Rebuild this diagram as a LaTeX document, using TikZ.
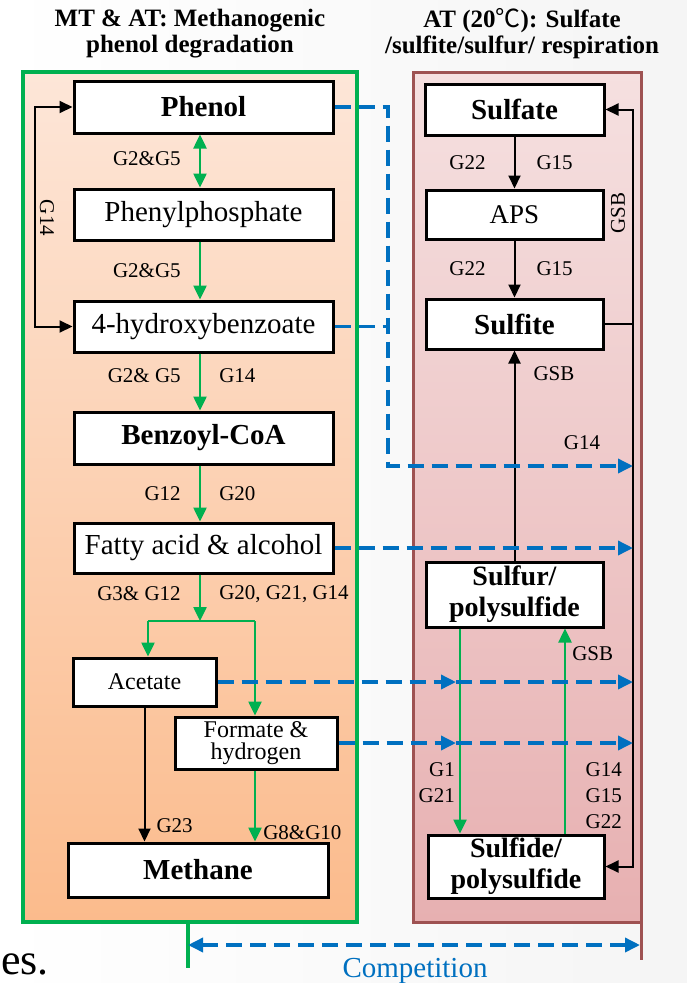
\documentclass[tikz,border=0pt]{standalone}
\usepackage{fontspec}
\setmainfont{Liberation Serif}
\newfontfamily\cjk{Noto Sans CJK SC}
\usetikzlibrary{arrows.meta, positioning, calc}

\definecolor{grn}{HTML}{00B050}
\definecolor{blu}{HTML}{0070C0}
\definecolor{brn}{HTML}{9E5252}
\definecolor{peachtop}{HTML}{FDE6D8}
\definecolor{peachbot}{HTML}{FBBB8C}
\definecolor{pinktop}{HTML}{F5E0E0}
\definecolor{pinkbot}{HTML}{E7B0B1}

\begin{document}
\begin{tikzpicture}[x=1pt, y=-1pt,
  box/.style={draw, line width=3pt, fill=white, inner sep=0pt, align=center, text=black},
  big/.style={font=\fontsize{29}{24}\selectfont},
  bbig/.style={font=\fontsize{29}{26}\selectfont\bfseries},
  btwo/.style={font=\fontsize{28}{31}\selectfont\bfseries},
  mid/.style={font=\fontsize{24}{22}\selectfont},
  lbl/.style={font=\fontsize{21}{26}\selectfont, inner sep=0pt, text=black},
  ttl/.style={font=\fontsize{25}{26}\selectfont\bfseries, align=center},
  ktip/.tip={Triangle[length=13pt,width=12pt]},
  gtip/.tip={Triangle[length=14pt,width=13pt]},
  btip/.tip={Triangle[length=15pt,width=14pt]},
  garr/.style={grn, line width=2.5pt, -{gtip}},
  gline/.style={grn, line width=2.5pt},
  karr/.style={black, line width=2pt, -{ktip}},
  karr2/.style={black, line width=2pt, {ktip}-{ktip}},
  comp/.style={blu, line width=3.5pt, dash pattern=on 16pt off 8pt},
  ctip/.style={-{btip}}
]
\useasboundingbox (0,0) rectangle (687,983);
\shade[left color=white, right color=gray!8] (0,0) rectangle (687,983);

%panels
\shade[top color=peachtop, bottom color=peachbot] (23,72) rectangle (357,922);
\draw[grn, line width=3.5pt] (23,72) rectangle (357,922);
\shade[top color=pinktop, bottom color=pinkbot] (413,72) rectangle (641,922);
\draw[brn, line width=3pt] (413,72) rectangle (641,922);

%titles
\node[ttl] (ttlleft) at (190,34) {MT \& AT: Methanogenic\\phenol degradation};
\node[ttl] (ttlright) at (522,34) {AT (20{\cjk\mdseries ℃}): Sulfate\\/sulfite/sulfur/ respiration};

%nodes
\node[box, bbig, minimum width=259pt, minimum height=52pt] (phenol) at (203.5,107) {Phenol};
\node[box, big, minimum width=259pt, minimum height=51pt] (phenyl) at (203.5,214.5) {Phenylphosphate};
\node[box, big, minimum width=259pt, minimum height=51pt] (hba) at (203.5,326.5) {4-hydroxybenzoate};
\node[box, bbig, minimum width=259pt, minimum height=52pt] (benzoyl) at (203.5,438) {Benzoyl-CoA};
\node[box, big, minimum width=259pt, minimum height=50pt] (fatty) at (203.5,548) {Fatty acid \& alcohol};
\node[box, mid, minimum width=143pt, minimum height=48pt] (acetate) at (144.5,682) {Acetate};
\node[box, mid, minimum width=162pt, minimum height=52pt] (formate) at (256,743) {Formate \&\\hydrogen};
\node[box, bbig, minimum width=260pt, minimum height=54pt] (methane) at (198,870) {Methane};

\node[box, bbig, minimum width=179pt, minimum height=51pt] (sulfate) at (514.5,109.5) {Sulfate};
\node[box, font=\fontsize{27}{27}\selectfont, minimum width=177pt, minimum height=49pt] (aps) at (514.5,214.5) {APS};
\node[box, bbig, minimum width=177pt, minimum height=50pt] (sulfite) at (514.5,324) {Sulfite};
\node[box, btwo, minimum width=177pt, minimum height=65pt] (sulfur) at (514.5,594.5) {Sulfur/\\polysulfide};
\node[box, btwo, minimum width=176pt, minimum height=63pt] (sulfide) at (516,866.5) {Sulfide/\\polysulfide};

%helper coordinates
\coordinate (ax) at (200,0);
\coordinate (lrail) at (35,220);
\coordinate (rrail) at (633,500);
\coordinate (bjoin) at (388,466);
\coordinate (mid) at (456,0);
\coordinate (fork) at (200,621);
\coordinate (forkl) at (148,621);
\coordinate (forkr) at (255,621);

%methanogenic chain
\draw[gline, {gtip}-{gtip}] (phenol.south -| ax) -- node[lbl, left=18pt, pos=0.45] {G2\&G5} (phenyl.north -| ax);
\draw[garr] (phenyl.south -| ax) -- node[lbl, left=18pt] {G2\&G5} (hba.north -| ax);
\draw[garr] (hba.south -| ax) -- node[lbl, left=18pt, pos=0.38] {G2\& G5} node[lbl, right=18pt, pos=0.38] {G14} (benzoyl.north -| ax);
\draw[garr] (benzoyl.south -| ax) -- node[lbl, left=18pt] {G12} node[lbl, right=18pt] {G20} (fatty.north -| ax);
\draw[garr] (fatty.south -| ax) -- node[lbl, left=18pt, pos=0.42] {G3\& G12} node[lbl, right=18pt, pos=0.42] {G20, G21, G14} (fork);
\draw[gline] (forkl) -- (forkr);
\draw[garr] (forkl) -- (forkl |- acetate.north);
\draw[garr] (forkr) -- (forkr |- formate.north);
\draw[karr] (acetate.south) -- node[lbl, right=11pt, pos=0.88] {G23} (acetate.south |- methane.north);
\draw[garr] (formate.south -| forkr) -- node[lbl, right=7pt, pos=0.88] {G8\&G10} (forkr |- methane.north);
\draw[karr2] (phenol.west) -| (lrail) |- (hba.west);
\node[lbl, rotate=-90] (g14left) at (47,218) {G14};

%sulfur chain
\draw[karr] (sulfate) -- node[lbl, left=28pt] {G22} node[lbl, right=21pt] {G15} (aps);
\draw[karr] (aps) -- node[lbl, left=28pt] {G22} node[lbl, right=21pt] {G15} (sulfite);
\draw[karr] (sulfur) -- node[lbl, right=18pt, pos=0.89] {GSB} (sulfite);
\draw[karr2] (sulfate.east) -| (rrail) |- (sulfide.east);
\draw[black, line width=2pt] (sulfite.east) -- (sulfite.east -| rrail);
\node[lbl, rotate=90] (gsbtop) at (618,213) {GSB};
\node[lbl, align=right, anchor=east] (gsbot) at (622,796) {G14\\G15\\G22};
\draw[garr] ($(sulfur.south)+(-54.5,0)$) -- node[lbl, left=4pt, pos=0.75, align=right] {G1\\G21} ($(sulfide.north)+(-56,0)$);
\draw[garr] ($(sulfide.north)+(49,0)$) -- node[lbl, right=6pt, pos=0.875] {GSB} ($(sulfur.south)+(50.5,0)$);

%competition
\draw[comp, ctip] (phenol.east) -| (bjoin) -- (bjoin -| rrail);
\draw[comp] (hba.east) -- (hba.east -| bjoin);
\node[lbl] (g14right) at (582,443) {G14};
\draw[comp, ctip] (fatty.east) -- (fatty.east -| rrail);
\draw[comp, ctip] (acetate.east) -- (acetate.east -| mid);
\draw[comp, ctip] (acetate.east -| mid) -- (acetate.east -| rrail);
\draw[comp, ctip] (formate.east) -- (formate.east -| mid);
\draw[comp, ctip] (formate.east -| mid) -- (formate.east -| rrail);

\coordinate (cl) at (188,945);
\coordinate (cr) at (640,945);
\draw[grn, line width=3.5pt] (188,922) -- (188,968);
\draw[brn, line width=3pt] (641,922) -- (641,960);
\draw[comp, {btip}-{btip}] (cl) -- (cr);
\node[font=\fontsize{29}{29}\selectfont, text=blu, anchor=base] (comptxt) at (415,977) {Competition};
\node[font=\fontsize{44}{44}\selectfont, anchor=base west, inner sep=0pt] (es) at (1,974) {es.};
\end{tikzpicture}
\end{document}
